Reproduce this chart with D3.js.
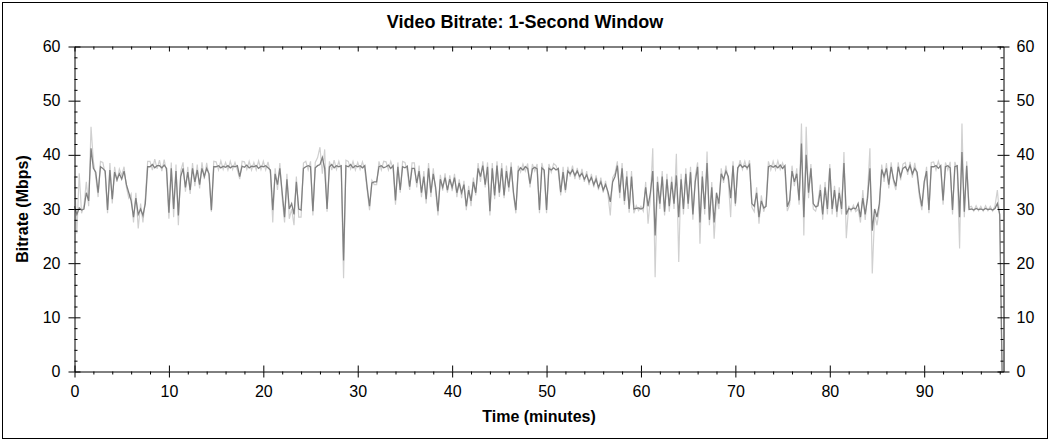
<!DOCTYPE html>
<html>
<head>
<meta charset="utf-8">
<script src="https://cdn.jsdelivr.net/npm/d3@7"></script>
<style>
  html, body { margin: 0; padding: 0; background: #ffffff; }
  svg { display: block; font-family: "Liberation Sans", Arial, sans-serif; }
  .tick text { font-size: 16px; fill: #000; }
</style>
</head>
<body>
<svg id="chart" width="1052" height="442"></svg>
<script>
// ---- Data ----
const chartTitle = "Video Bitrate: 1-Second Window";
const xTitle = "Time (minutes)";
const yTitle = "Bitrate (Mbps)";
const xTickValues = [0, 10, 20, 30, 40, 50, 60, 70, 80, 90];
const yTickValues = [0, 10, 20, 30, 40, 50, 60];
const sampleStep = 0.25; // minutes between samples

// 1-second window bitrate (dark trace), Mbps, one value every 0.25 min
const darkVals = [
  30.5, 29, 30.2, 29.8,  30, 33, 31.5, 41.2,  37.5, 36.8, 33, 37.8,  37.5, 37, 29.8, 37.2,
  31.8, 36.8, 35.4, 36.5,  35.5, 37, 34.5, 33,  31.5, 28.5, 32, 29,  30, 28.8, 31, 37.8,
  37.8, 38.2, 37.6, 38,  38, 37.6, 38.1, 37.5,  29.3, 37.5, 30, 37,  28.8, 36, 37.5, 34,
  36.8, 33.5, 37.5, 35,  37.2, 34.5, 37.5, 36,  37.5, 36.5, 29.8, 37.8,  37.8, 38, 37.6, 37.9,
  37.7, 38, 37.6, 37.9,  37.8, 38, 36, 37.9,  37.7, 38.1, 37.6, 37.9,  37.8, 38, 37.5, 37.9,
  37.8, 38, 37.6, 37.2,  29.8, 36.5, 34.5, 37.5,  33, 28.5, 35.5, 30,  31, 29, 35, 30,
  29.8, 37.5, 37.8, 38,  37.8, 29.6, 37.6, 38,  38.2, 39.5, 37.5, 30,  37.8, 38.2, 37.6, 38,
  37.8, 38, 20.5, 38,  37.8, 38.2, 37.6, 38,  37.8, 38, 37.6, 38,  34, 30.5, 34.8, 35,
  35, 37.8, 38, 37.6,  37.8, 38.1, 37.5, 38,  31.6, 37.8, 33.5, 37.8,  37.6, 37.9, 34.1, 37.5,
  37.5, 34.8, 37, 33,  36, 31.8, 37.5, 33,  36.5, 34, 29.6, 35.5,  34, 35.8, 33.5, 35.5,
  34, 35.8, 33, 34.8,  33, 34.5, 30.5, 33.5,  31.5, 35, 33, 37.5,  36, 38, 34.5, 37.8,
  29.6, 37.5, 32.5, 38,  33, 37.5, 32.5, 37,  34, 37.8, 33, 29.8,  37, 37.6, 37.2, 37.8,
  37.5, 34.7, 37.4, 37.7,  37.4, 29.8, 37.6, 37.2,  29.8, 37.5, 37.2, 37.6,  37.2, 37.5, 33.1, 36.8,
  33.5, 37, 36.5, 37.2,  36.2, 37, 36, 36.6,  35.5, 36.3, 35, 35.8,  34.5, 35.5, 34, 35,
  33.5, 34.5, 33.2, 31.3,  35, 36, 38, 33,  37.5, 31.5, 36, 30,  36, 30, 30.1, 30.2,
  30, 30.2, 34, 30.5,  33, 37, 25.1, 35,  31, 36, 29.5, 35.5,  30.5, 35, 31, 36.2,
  28.5, 35.5, 30, 36.5,  31, 36.8, 29, 35,  37.8, 27.5, 36, 30,  38.5, 28, 34, 27.5,
  33, 31, 36.5, 35.5,  37, 36, 32, 38,  31, 37.6, 38.2, 37.7,  38, 37.6, 38.2, 31,
  30.5, 33, 28.5, 31.5,  30.2, 30.5, 37.8, 38,  37.7, 38, 37.6, 38.1,  37.5, 38, 30.4, 31.6,
  37, 35, 36.5, 31.6,  42.1, 28.5, 40, 33,  37.5, 31, 30.4, 30.6,  33.5, 29, 34, 30,
  37.5, 30, 33.5, 29.5,  33, 30, 38.5, 29,  30.1, 29.9, 30.2, 30,  31, 28.5, 32, 29,
  32, 37.5, 26, 30,  28.5, 31, 37.3, 36,  37.5, 34.5, 37.8, 35.5,  34.2, 37.8, 36, 37.5,
  37.8, 37, 38, 36.5,  37.5, 36.8, 33, 30.5,  35, 37, 29.8, 37.8,  37.8, 38, 37.5, 38,
  31.6, 37.8, 38, 37.6,  29.8, 37.8, 38, 28.5,  40.5, 29.5, 38, 29.9,  30, 29.8, 30.1, 29.9,
  30, 29.8, 30.1, 29.9,  30, 29.8, 30.1, 31,  29, 0
];

// finer-window peaks/troughs (light trace), Mbps, one value every 0.25 min
const lightVals = [
  36, 25.5, 36.6, 29.2,  30.6, 35, 30.5, 45.2,  38.8, 36, 32.2, 38.8,  38.6, 36.5, 29.2, 38.5,
  31, 37.8, 35, 37.4,  36.2, 37.8, 34, 32,  32.8, 27.5, 33, 26.4,  31, 27.5, 32, 38.8,
  38.8, 37.2, 39.2, 37.4,  39, 37, 39.1, 36.8,  28.2, 38.6, 28.5, 38.2,  27, 37, 38.6, 33.2,
  37.8, 32.8, 38.5, 34.2,  38.2, 33.8, 38.6, 35.5,  38.5, 36, 29.5, 38.8,  38.7, 37.2, 38.9, 37.3,
  38.6, 37.2, 38.8, 37.3,  38.6, 37.2, 35.5, 38.8,  38.7, 37.3, 38.8, 37.2,  38.6, 37.2, 38.9, 37.3,
  38.8, 37.2, 38.7, 36.5,  27.5, 37.5, 33.5, 38.5,  32, 27.5, 36.5, 28.2,  30, 27, 36, 28.5,
  28.5, 38.5, 38.8, 37.2,  38.8, 28.8, 38.6, 39.5,  41.4, 36.5, 41, 29.5,  38.8, 37.2, 39, 37.3,
  38.8, 37.2, 17.2, 39,  38.8, 37.4, 38.8, 37.2,  38.6, 37.3, 38.7, 37.2,  33.5, 29.8, 35.3, 34.5,
  34.5, 38.8, 37.2, 38.8,  38.7, 37.2, 38.8, 37.4,  30.8, 38.6, 33, 38.8,  38.6, 37, 33.5, 38.5,
  38.5, 34, 38, 32.2,  37, 31, 38.5, 32.2,  37.5, 33.3, 28.8, 36.3,  33.4, 36.6, 33, 36.2,
  33.3, 36.5, 32.2, 35.5,  32, 35.2, 29.8, 34.3,  30.5, 35.8, 32.5, 38.5,  35, 38.8, 34, 38.6,
  28.8, 38.5, 31.8, 38.8,  32.2, 38.5, 32, 38,  33.2, 38.6, 32.5, 29.2,  38, 36.8, 38.3, 37,
  38.4, 34, 38.3, 37,  38.3, 29.2, 38.5, 36.6,  29.2, 38.3, 36.8, 38.4,  38, 36.8, 32.5, 37.8,
  33, 37.8, 36, 38,  35.5, 37.6, 35.4, 37.4,  35, 37, 34.4, 36.5,  34, 36.2, 33.5, 35.8,
  33, 35.2, 32.7, 28.8,  35.8, 36.6, 38.8, 32,  38.5, 30.8, 37, 29.3,  37, 29.2, 30.6, 29.7,
  30.5, 29.6, 35, 27.3,  32, 41.2, 17.4, 36,  30, 37, 28.8, 36.5,  29.5, 36, 30, 40.2,
  20.2, 36.5, 29, 37.5,  30, 37.8, 28, 36,  38.6, 23.6, 37, 29,  40.6, 27, 35, 24.5,
  32, 30, 37.5, 34.8,  38, 35.2, 28.5, 38.8,  30.5, 37.2, 39, 37.3,  38.8, 37.2, 39, 30.3,
  29.5, 34, 27.3, 32.5,  29.5, 31, 38.8, 37.2,  38.8, 37.2, 38.9, 37.3,  38.5, 37, 29.6, 30.8,
  38, 34.2, 37.5, 30.8,  45.8, 25.1, 45.2, 32,  38.3, 30, 29.6, 31.3,  34.5, 28, 35, 29,
  38.3, 29, 34.3, 28.5,  34, 29, 40.5, 24.6,  30.6, 29.6, 30.7, 29.5,  30, 27.5, 33.5, 28,
  33, 41.2, 18.1, 29,  27, 30, 38.2, 35,  38.5, 33.8, 38.6, 35,  33.5, 38.6, 35.3, 38.3,
  38.6, 36.3, 38.7, 35.8,  38.5, 36, 32.2, 29.8,  34.3, 37.8, 29.2, 38.6,  38.7, 37.2, 38.8, 37.3,
  30.8, 38.6, 37.2, 38.7,  29, 38.7, 37.2, 22.7,  45.8, 28.5, 38.8, 30.3,  30.5, 29.6, 30.6, 29.7,
  30.5, 29.6, 30.6, 29.7,  30.5, 29.6, 30.6, 33.5,  28.5, 0
];

// ---- Layout ----
const svg = d3.select("#chart");
const pL = 74.5, pR = 1003.5, pT = 46.5, pB = 371.5;

svg.append("rect").attr("x", 2.5).attr("y", 2.5).attr("width", 1045).attr("height", 436)
  .attr("fill", "#fff").attr("stroke", "#000").attr("stroke-width", 1);

const x = d3.scaleLinear().domain([0, 98.4]).range([pL, pR]);
const y = d3.scaleLinear().domain([0, 60]).range([pB, pT]);

const xMinor = d3.range(2, 99, 2).filter(v => v % 10 !== 0);
const yMinor = d3.range(2, 60, 2).filter(v => v % 10 !== 0);

// data lines
const pts = (vals) => vals.map((v, i) => [i * sampleStep, v]);
const line = d3.line().x(d => x(d[0])).y(d => y(d[1]));

const plot = svg.append("g");
plot.append("path").datum(pts(lightVals)).attr("d", line)
  .attr("fill", "none").attr("stroke", "#d0d0d0").attr("stroke-width", 1.2);
plot.append("path").datum(pts(darkVals)).attr("d", line)
  .attr("fill", "none").attr("stroke", "#808080").attr("stroke-width", 1.3);

function styleAxis(g, keepDomain) {
  g.selectAll("line").attr("stroke", "#000");
  g.select(".domain").attr("stroke", keepDomain ? "#000" : "none");
}

// left axis
svg.append("g").attr("transform", `translate(${pL},0)`)
  .call(d3.axisLeft(y).tickValues(yTickValues).tickSize(6).tickSizeOuter(0).tickPadding(8))
  .call(g => styleAxis(g, true));
svg.append("g").attr("transform", `translate(${pL},0)`)
  .call(d3.axisRight(y).tickValues(yTickValues).tickSize(6).tickSizeOuter(0).tickFormat(""))
  .call(g => styleAxis(g, false));
svg.append("g").attr("transform", `translate(${pL},0)`)
  .call(d3.axisRight(y).tickValues(yMinor).tickSize(3).tickSizeOuter(0).tickFormat(""))
  .call(g => styleAxis(g, false));

// right axis
svg.append("g").attr("transform", `translate(${pR},0)`)
  .call(d3.axisRight(y).tickValues(yTickValues).tickSize(6).tickSizeOuter(0).tickPadding(7))
  .call(g => styleAxis(g, true));
svg.append("g").attr("transform", `translate(${pR},0)`)
  .call(d3.axisLeft(y).tickValues(yTickValues).tickSize(6).tickSizeOuter(0).tickFormat(""))
  .call(g => styleAxis(g, false));
svg.append("g").attr("transform", `translate(${pR},0)`)
  .call(d3.axisLeft(y).tickValues(yMinor).tickSize(3).tickSizeOuter(0).tickFormat(""))
  .call(g => styleAxis(g, false));

// bottom axis
svg.append("g").attr("transform", `translate(0,${pB})`)
  .call(d3.axisBottom(x).tickValues(xTickValues).tickSize(6).tickSizeOuter(0).tickPadding(8).tickFormat(d3.format("d")))
  .call(g => styleAxis(g, true));
svg.append("g").attr("transform", `translate(0,${pB})`)
  .call(d3.axisTop(x).tickValues(xTickValues).tickSize(6).tickSizeOuter(0).tickFormat(""))
  .call(g => styleAxis(g, false));
svg.append("g").attr("transform", `translate(0,${pB})`)
  .call(d3.axisBottom(x).tickValues(xMinor).tickSize(3).tickSizeOuter(0).tickFormat(""))
  .call(g => styleAxis(g, false));

// top axis (ticks inward)
svg.append("g").attr("transform", `translate(0,${pT})`)
  .call(d3.axisBottom(x).tickValues(xTickValues).tickSize(5).tickSizeOuter(0).tickFormat(""))
  .call(g => styleAxis(g, true));
svg.append("g").attr("transform", `translate(0,${pT})`)
  .call(d3.axisBottom(x).tickValues(xMinor).tickSize(3).tickSizeOuter(0).tickFormat(""))
  .call(g => styleAxis(g, false));

svg.selectAll(".tick text").attr("font-family", '"Liberation Sans", Arial, sans-serif').attr("font-size", 16);

// titles
svg.append("text").attr("x", 525).attr("y", 28).attr("text-anchor", "middle")
  .attr("font-size", 18).attr("font-weight", "bold").text(chartTitle);
svg.append("text").attr("x", (pL + pR) / 2).attr("y", 422).attr("text-anchor", "middle")
  .attr("font-size", 16).attr("font-weight", "bold").text(xTitle);
svg.append("text").attr("transform", `translate(28,${(pT + pB) / 2}) rotate(-90)`)
  .attr("text-anchor", "middle").attr("font-size", 16).attr("font-weight", "bold").text(yTitle);
</script>
</body>
</html>
